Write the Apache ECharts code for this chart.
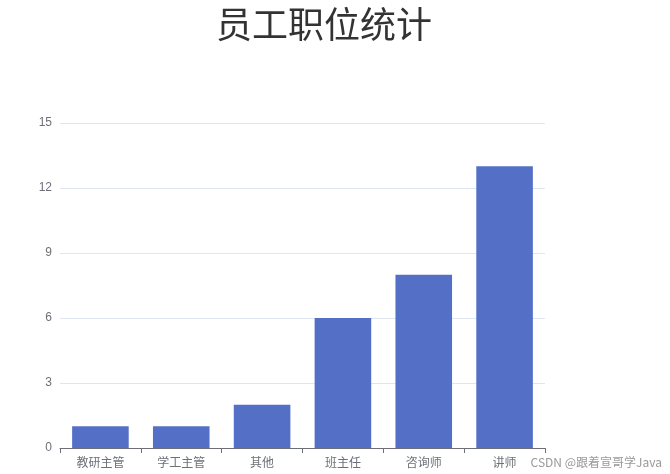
<!DOCTYPE html>
<html><head><meta charset="utf-8">
<script src="https://cdn.jsdelivr.net/npm/echarts@6/dist/echarts.min.js"></script>
<style>html,body{margin:0;padding:0;background:#fff}#c{width:670px;height:474px}</style>
</head><body><div id="c"></div>
<script>
const categories = ['教研主管','学工主管','其他','班主任','咨询师','讲师'];
const counts = [1, 1, 2, 6, 8, 13];
const yTicks = [0, 3, 6, 9, 12, 15];
const titleText = '员工职位统计';
const watermark = 'CSDN @跟着宣哥学Java';

const chart = echarts.init(document.getElementById('c'));
chart.setOption({
  animation: false,
  title: {
    text: titleText, left: 211, top: 1,
    textStyle: { fontSize: 36, fontWeight: 'normal', color: '#333', fontFamily: 'Noto Sans CJK SC' }
  },
  grid: { left: 60, right: 125, top: 123, bottom: 26, containLabel: false },
  xAxis: {
    type: 'category', data: categories,
    axisLabel: { fontSize: 12, color: '#6E7079', fontFamily: 'Noto Sans CJK SC', margin: 8 },
    axisTick: { show: true },
    axisLine: { lineStyle: { color: '#6E7079' } }
  },
  yAxis: {
    type: 'value', min: yTicks[0], max: yTicks[yTicks.length - 1], interval: 3,
    axisLabel: { fontSize: 12, color: '#6E7079' },
    splitLine: { lineStyle: { color: '#E0E6F1' } }
  },
  series: [{
    type: 'bar', data: counts, barWidth: '70%',
    itemStyle: { color: '#5470C6' }
  }],
  graphic: [{
    type: 'text', right: 8, bottom: 6,
    style: { text: watermark, fontSize: 12, fill: '#999', fontFamily: 'Noto Sans CJK SC' }
  }]
});
</script></body></html>
